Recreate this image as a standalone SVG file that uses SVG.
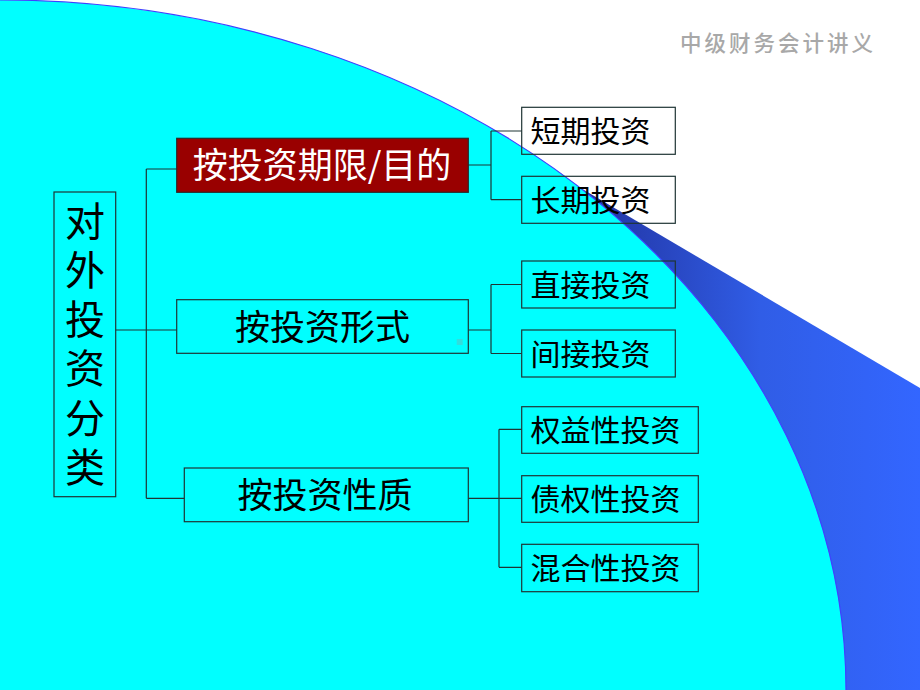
<svg xmlns="http://www.w3.org/2000/svg" width="920" height="690" viewBox="0 0 920 690">
<defs>
<linearGradient id="bluegrad" gradientUnits="userSpaceOnUse" x1="600" y1="0" x2="920" y2="0">
<stop offset="0" stop-color="#2336a6"/>
<stop offset="0.5" stop-color="#305de6"/>
<stop offset="1" stop-color="#3366ff"/>
</linearGradient>
<style>
.box{fill:none;stroke:#1f3535;stroke-width:1.2}
.red{fill:#990000;stroke:#2a2a2a;stroke-width:1.2}
.conn{fill:none;stroke:#1f3535;stroke-width:1.2}
.t{font-family:"Noto Sans CJK SC","Noto Sans CJK JP",sans-serif;fill:#000}
.t30{font-size:30px}
.t35{font-size:35px}
.t40{font-size:40px}
.w{fill:#ffffff}
</style>
</defs>
<rect x="0" y="0" width="920" height="690" fill="#ffffff"/>
<g id="background">
<polygon points="450,111 920,388 920,690 450,690" fill="url(#bluegrad)"/>
<path d="M0,0 A846,690 0 0 1 846,690 L0,690 Z" fill="#00ffff"/>
<path d="M0,0 A846,690 0 0 1 846,690" fill="none" stroke="#4040ff" stroke-width="1.2"/>
</g>
<text x="680" y="51" font-family="'Noto Sans CJK SC',sans-serif" font-size="21.5" font-weight="500" letter-spacing="3" fill="#a8a8a8">中级财务会计讲义</text>
<g id="connectors">
<path class="conn" d="M115.7,330 H146.3 M146.3,169 V498.3 M146.3,169 H176.7 M146.3,330 H176.7 M146.3,498.3 H184.3"/>
<path class="conn" d="M468.3,165 H491 M491,131 V199.7 M491,131 H521.7 M491,199.7 H521.7"/>
<path class="conn" d="M468.3,330 H491 M491,284.5 V353.5 M491,284.5 H521.7 M491,353.5 H521.7"/>
<path class="conn" d="M468.3,498.3 H521.7 M499,429.3 V567.3 M499,429.3 H521.7 M499,567.3 H521.7"/>
</g>
<g id="root">
<rect class="box" x="54" y="192" width="61.7" height="304.7"/>
<text class="t t40" x="85" y="201" writing-mode="tb" letter-spacing="9.1">对外投资分类</text>
</g>
<g id="by-term">
<rect class="red" x="176.7" y="138.3" width="291.6" height="54"/>
<text class="t t35 w" x="322" y="178" text-anchor="middle">按投资期限/目的</text>
</g>
<g id="by-form">
<rect class="box" x="176.7" y="299.7" width="291.6" height="53.6"/>
<text class="t t35" x="322.5" y="339.5" text-anchor="middle">按投资形式</text>
<rect x="456.7" y="339" width="6" height="6" fill="#33dddd"/>
</g>
<g id="by-nature">
<rect class="box" x="184.3" y="468" width="284" height="53.7"/>
<text class="t t35" x="325" y="508" text-anchor="middle">按投资性质</text>
</g>
<g id="short-term">
<rect class="box" x="521.7" y="107.3" width="153.6" height="47"/>
<text class="t t30" x="530.5" y="142.4">短期投资</text>
</g>
<g id="long-term">
<rect class="box" x="521.7" y="176.3" width="153.6" height="47"/>
<text class="t t30" x="530.5" y="211.4">长期投资</text>
</g>
<g id="direct">
<rect class="box" x="521.7" y="261" width="153.6" height="47"/>
<text class="t t30" x="530.5" y="296">直接投资</text>
</g>
<g id="indirect">
<rect class="box" x="521.7" y="330" width="153.6" height="47"/>
<text class="t t30" x="530.5" y="365">间接投资</text>
</g>
<g id="equity">
<rect class="box" x="521.7" y="406.7" width="176.6" height="46.6"/>
<text class="t t30" x="530.5" y="441.4">权益性投资</text>
</g>
<g id="debt">
<rect class="box" x="521.7" y="475.7" width="176.6" height="46.6"/>
<text class="t t30" x="530.5" y="510.4">债权性投资</text>
</g>
<g id="mixed">
<rect class="box" x="521.7" y="544.3" width="176.6" height="47.4"/>
<text class="t t30" x="530.5" y="579.4">混合性投资</text>
</g>
</svg>
